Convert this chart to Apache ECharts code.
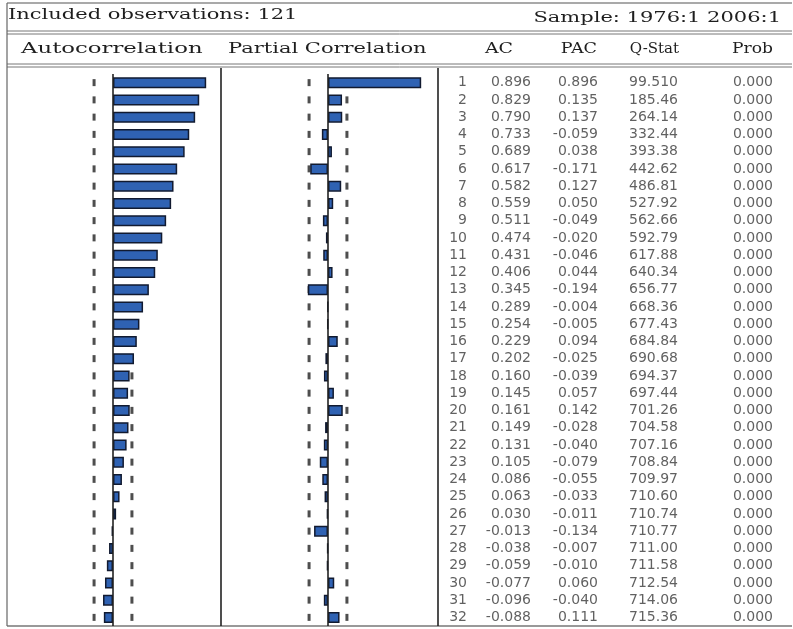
<!DOCTYPE html>
<html>
<head>
<meta charset="utf-8">
<script src="https://cdn.jsdelivr.net/npm/echarts@6/dist/echarts.min.js"></script>
<style>
  html, body { margin: 0; padding: 0; background: #fff; }
  #chart { width: 793px; height: 629px; }
</style>
</head>
<body>
<div id="chart"></div>
<script>
// Correlogram: autocorrelation / partial autocorrelation, lags 1..32
const lags = ['1','2','3','4','5','6','7','8','9','10','11','12','13','14','15','16',
              '17','18','19','20','21','22','23','24','25','26','27','28','29','30','31','32'];
const acValues = [0.896, 0.829, 0.790, 0.733, 0.689, 0.617, 0.582, 0.559, 0.511, 0.474,
                  0.431, 0.406, 0.345, 0.289, 0.254, 0.229, 0.202, 0.160, 0.145, 0.161,
                  0.149, 0.131, 0.105, 0.086, 0.063, 0.030, -0.013, -0.038, -0.059, -0.077,
                  -0.096, -0.088];
const pacValues = [0.896, 0.135, 0.137, -0.059, 0.038, -0.171, 0.127, 0.050, -0.049, -0.020,
                   -0.046, 0.044, -0.194, -0.004, -0.005, 0.094, -0.025, -0.039, 0.057, 0.142,
                   -0.028, -0.040, -0.079, -0.055, -0.033, -0.011, -0.134, -0.007, -0.010, 0.060,
                   -0.040, 0.111];
const qStats = ['99.510','185.46','264.14','332.44','393.38','442.62','486.81','527.92',
                '562.66','592.79','617.88','640.34','656.77','668.36','677.43','684.84',
                '690.68','694.37','697.44','701.26','704.58','707.16','708.84','709.97',
                '710.60','710.74','710.77','711.00','711.58','712.54','714.06','715.36'];
const probValues = ['0.000','0.000','0.000','0.000','0.000','0.000','0.000','0.000',
                    '0.000','0.000','0.000','0.000','0.000','0.000','0.000','0.000',
                    '0.000','0.000','0.000','0.000','0.000','0.000','0.000','0.000',
                    '0.000','0.000','0.000','0.000','0.000','0.000','0.000','0.000'];
const confBound = 0.182;               // approx. 2 / sqrt(121)
const headerTitle = 'Included observations: 121';
const sampleText = 'Sample: 1976:1 2006:1';
const columnTitles = ['Autocorrelation', 'Partial Correlation', 'AC', 'PAC', 'Q-Stat', 'Prob'];

// ---- layout ----
const GRID_TOP = 74;
const GRID_H = 552;
const ROW_COLS = [27, 91, 158, 238, 333];   // right edges of table columns inside the table grid
const BAR_FILL = '#2f62b3';
const BAR_EDGE = '#111a30';
const SERIF = '"DejaVu Serif", serif';
const SANS = '"DejaVu Sans", sans-serif';

const fmt = v => (v < 0 ? '-' : '') + Math.abs(v).toFixed(3);

function boundMarks() {
  const out = [];
  lags.forEach((_, i) => { out.push([-confBound, i]); out.push([confBound, i]); });
  return out;
}

function corrGrid(idx) {
  return {
    xAxis: { gridIndex: idx, type: 'value', min: -1, max: 1, show: false },
    yAxis: { gridIndex: idx, type: 'category', data: lags, inverse: true, show: false }
  };
}

const g0 = corrGrid(0), g1 = corrGrid(1);

function barSeries(idx, values) {
  return {
    type: 'bar', xAxisIndex: idx, yAxisIndex: idx, data: values,
    barWidth: 11, z: 3, silent: true,
    itemStyle: { color: BAR_FILL, borderColor: BAR_EDGE, borderWidth: 1.5 },
    markLine: {
      silent: true, symbol: 'none', label: { show: false },
      lineStyle: { color: '#222', width: 1.6, type: 'solid' },
      data: [{ xAxis: 0 }]
    }
  };
}

function boundSeries(idx) {
  return {
    type: 'scatter', xAxisIndex: idx, yAxisIndex: idx, data: boundMarks(),
    symbol: 'rect', symbolSize: [3, 7], z: 2, silent: true,
    itemStyle: { color: '#222' }
  };
}

const tableColumns = [
  lags,
  acValues.map(fmt),
  pacValues.map(fmt),
  qStats,
  probValues
];

const tableSeries = tableColumns.map((col, c) => ({
  type: 'scatter', xAxisIndex: 2, yAxisIndex: 2, symbolSize: 0, silent: true,
  data: col.map((txt, i) => [ROW_COLS[c], i, txt]),
  label: {
    show: true, position: 'left', distance: 0,
    formatter: p => p.value[2],
    fontFamily: SANS, fontSize: 14, color: '#3a3a3a'
  }
}));

function hLine(y, x1, x2, color, w) {
  return { type: 'line', silent: true, shape: { x1, y1: y, x2, y2: y },
           style: { stroke: color, lineWidth: w } };
}
function vLine(x, y1, y2, color, w) {
  return { type: 'line', silent: true, shape: { x1: x, y1, x2: x, y2 },
           style: { stroke: color, lineWidth: w } };
}
function label(text, x, y, align, stretch) {
  return { type: 'text', x, y, scaleX: stretch, silent: true,
           style: { text, x: 0, y: 0, align: align, verticalAlign: 'middle',
                    font: '15px ' + SERIF, fill: '#1e1e1e' } };
}

const chart = echarts.init(document.getElementById('chart'), null, { renderer: 'canvas' });
chart.setOption({
  animation: false,
  backgroundColor: '#ffffff',
  grid: [
    { left: 9, width: 208, top: GRID_TOP, height: GRID_H },
    { left: 224, width: 208, top: GRID_TOP, height: GRID_H },
    { left: 440, width: 353, top: GRID_TOP, height: GRID_H }
  ],
  xAxis: [g0.xAxis, g1.xAxis,
          { gridIndex: 2, type: 'value', min: 0, max: 353, show: false }],
  yAxis: [g0.yAxis, g1.yAxis,
          { gridIndex: 2, type: 'category', data: lags, inverse: true, show: false }],
  series: [
    boundSeries(0), barSeries(0, acValues),
    boundSeries(1), barSeries(1, pacValues),
    ...tableSeries
  ],
  graphic: [
    hLine(3, 7, 792, '#555', 1.2),
    hLine(31, 7, 792, '#777', 1),
    hLine(34, 7, 792, '#777', 1),
    hLine(64, 7, 792, '#777', 1),
    hLine(67, 7, 792, '#777', 1),
    hLine(626, 7, 792, '#777', 1.5),
    vLine(7, 3, 626, '#666', 1.2),
    vLine(221, 68, 626, '#222', 1.6),
    vLine(438, 68, 626, '#222', 1.6),
    label(headerTitle, 8, 15, 'left', 1.4),
    label(sampleText, 781, 18, 'right', 1.4),
    label(columnTitles[0], 21, 49, 'left', 1.52),
    label(columnTitles[1], 228, 49, 'left', 1.4),
    label(columnTitles[2], 513, 49, 'right', 1.26),
    label(columnTitles[3], 597, 49, 'right', 1.17),
    label(columnTitles[4], 679, 49, 'right', 1.0),
    label(columnTitles[5], 773, 49, 'right', 1.14)
  ]
});
</script>
</body>
</html>
